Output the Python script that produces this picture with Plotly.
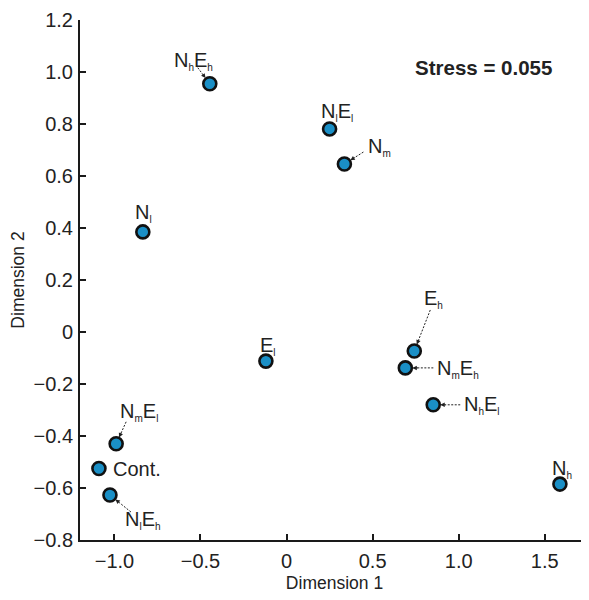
import plotly.graph_objects as go
import math

# Data (MDS coordinates)
names = [("N", "h", "E", "h"), ("N", "l"), ("E", "l"), ("N", "m", "E", "l"),
         ("Cont.",), ("N", "l", "E", "h"), ("E", "h"), ("N", "m", "E", "h"),
         ("N", "h", "E", "l"), ("N", "h"), ("N", "l", "E", "l"), ("N", "m")]
dim1 = [-0.446, -0.835, -0.12, -0.99, -1.09, -1.026, 0.742, 0.69, 0.852, 1.588, 0.25, 0.336]
dim2 = [0.955, 0.385, -0.112, -0.43, -0.525, -0.627, -0.073, -0.138, -0.28, -0.585, 0.781, 0.646]
x_ticks = [-1.0, -0.5, 0, 0.5, 1.0, 1.5]
x_ticklabels = ["\u22121.0", "\u22120.5", "0", "0.5", "1.0", "1.5"]
y_ticks = [-0.8, -0.6, -0.4, -0.2, 0, 0.2, 0.4, 0.6, 0.8, 1.0, 1.2]
y_ticklabels = ["\u22120.8", "\u22120.6", "\u22120.4", "\u22120.2", "0", "0.2", "0.4", "0.6", "0.8", "1.0", "1.2"]
stress_text = "Stress = 0.055"


def fmt(parts):
    out = ""
    for k, p in enumerate(parts):
        if k % 2 == 1:
            out += "<sub><span style='font-size:10px'>" + p + "</span></sub>"
        else:
            out += p
    return out


labels = [fmt(p) for p in names]

# Label placement (pixel offsets from point; y downward), anchor, and arrow start (or None)
label_off = [(-16, -23, "center"), (1, -19, "center"), (2, -15, "center"), (23, -32, "center"),
             (12, 0, "left"), (33, 25, "center"), (19, -52, "center"), (30, 1, "left"),
             (29, 0, "left"), (2, -15, "center"), (7, -17, "center"), (22, -17, "left")]
arrow_start = [(-12, -16), None, None, (10, -22), None, (21, 17), (16, -41), (28, 0),
               (27, 0), None, None, (19, -12)]

FONT = "Arial, Liberation Sans, sans-serif"
fig = go.Figure()
fig.add_trace(go.Scatter(
    x=dim1, y=dim2, mode="markers",
    marker=dict(size=13, color="#1a8fc6", line=dict(color="#111111", width=2.6)),
    hoverinfo="skip", showlegend=False))

shapes = []
annotations = []
for i in range(len(dim1)):
    dx, dy, anc = label_off[i]
    annotations.append(dict(
        x=dim1[i], y=dim2[i], xref="x", yref="y", text=labels[i], showarrow=False,
        xanchor=anc, yanchor="middle", xshift=dx, yshift=-dy,
        font=dict(family=FONT, size=20, color="#222222")))
    if arrow_start[i] is not None:
        sx, sy = arrow_start[i]
        L = math.hypot(sx, sy)
        ux, uy = sx / L, sy / L
        shapes.append(dict(
            type="line", xref="x", yref="y", xsizemode="pixel", ysizemode="pixel",
            xanchor=dim1[i], yanchor=dim2[i],
            x0=sx, y0=-sy, x1=ux * 12, y1=-uy * 12,
            line=dict(color="#222222", width=1, dash="2px,1.5px")))
        annotations.append(dict(
            x=dim1[i], y=dim2[i], xref="x", yref="y", text="", showarrow=True,
            ax=ux * 14, ay=uy * 14, axref="pixel", ayref="pixel",
            arrowhead=2, arrowsize=0.9, arrowwidth=1, arrowcolor="#222222", standoff=7))

# page is offset by 8px body margin; plot area spans x 80..589, y 20..540 in the window
annotations.append(dict(
    x=(483 - 80) / (589 - 80), y=(540 - 67) / (540 - 20), xref="paper", yref="paper",
    xanchor="center", yanchor="middle",
    text="<b>" + stress_text + "</b>", showarrow=False,
    font=dict(family=FONT, size=20.5, color="#222222")))

fig.update_layout(
    width=581, height=592,
    margin=dict(l=72, r=0, t=12, b=60),
    paper_bgcolor="white", plot_bgcolor="white",
    font=dict(family=FONT, color="#222222"),
    shapes=shapes, annotations=annotations,
    xaxis=dict(range=[-1.2, 1.757], tickvals=x_ticks, ticktext=x_ticklabels,
               showgrid=False, zeroline=False, showline=True, linecolor="#1a1a1a", linewidth=2,
               ticks="inside", ticklen=6, tickwidth=1.5, tickcolor="#1a1a1a",
               tickfont=dict(size=20, family=FONT, color="#222222"), ticklabelstandoff=2,
               title=dict(text="Dimension 1", font=dict(size=17.5, family=FONT, color="#222222"), standoff=6)),
    yaxis=dict(range=[-0.8, 1.2], tickvals=y_ticks, ticktext=y_ticklabels,
               showgrid=False, zeroline=False, showline=True, linecolor="#1a1a1a", linewidth=2,
               ticks="inside", ticklen=6, tickwidth=1.5, tickcolor="#1a1a1a",
               tickfont=dict(size=20, family=FONT, color="#222222"), ticklabelstandoff=1,
               title=dict(text="Dimension 2", font=dict(size=17.5, family=FONT, color="#222222"), standoff=4)),
)
fig.write_html("out.html")
